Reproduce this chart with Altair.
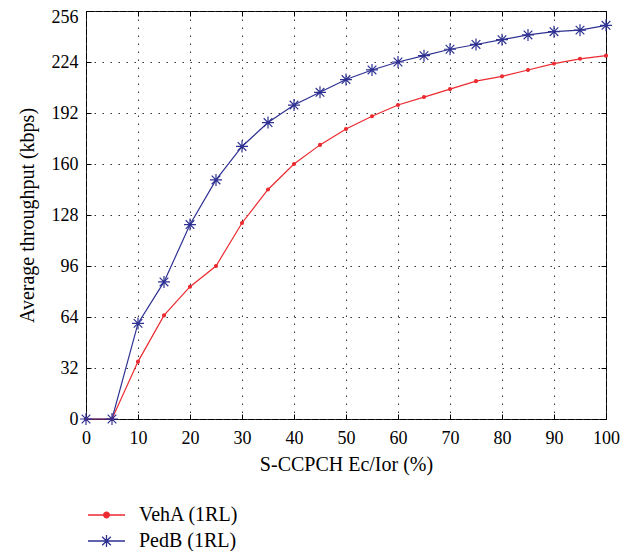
import altair as alt
import pandas as pd

# ---- data ----
x_pct = [0, 5, 10, 15, 20, 25, 30, 35, 40, 45, 50, 55, 60, 65, 70, 75, 80, 85, 90, 95, 100]
veha = [0, 0, 36, 65, 83, 96, 123, 144, 160, 172, 182, 190, 197, 202, 207, 212, 215, 219, 223, 226, 228]
pedb = [0, 0, 60, 86, 122, 150, 171, 186, 197, 205, 213, 219, 224, 228, 232, 235, 238, 241, 243, 244, 247]
series_names = ["VehA (1RL)", "PedB (1RL)"]
series_colors = ["#ec2a30", "#2e3192"]
x_ticks = [0, 10, 20, 30, 40, 50, 60, 70, 80, 90, 100]
y_ticks = [0, 32, 64, 96, 128, 160, 192, 224, 256]

rows = []
for name, vals in zip(series_names, [veha, pedb]):
    for xv, yv in zip(x_pct, vals):
        rows.append({"x": xv, "y": yv, "series": name})
df = pd.DataFrame(rows)

FONT = "Liberation Serif"
FS_TICK = 18
FS_TITLE = 20
FS_LEG = 20

# marker shapes (unit box -1..1)
DOT = "M-0.24,0A0.24,0.24,0,1,0,0.24,0A0.24,0.24,0,1,0,-0.24,0Z"
STAR = "M0,-1V1M-1,0H1M-0.72,-0.72L0.72,0.72M-0.72,0.72L0.72,-0.72"
# legend symbols: line segment + marker
LEG_VEHA = "M-1.85,0H1.85M-0.28,0A0.28,0.28,0,1,0,0.28,0A0.28,0.28,0,1,0,-0.28,0Z"
LEG_PEDB = "M-1.85,0H1.85M0,-0.6V0.6M-0.6,0H0.6M-0.43,-0.43L0.43,0.43M-0.43,0.43L0.43,-0.43"

xscale = alt.Scale(domain=[0, 100], nice=False, zero=False)
yscale = alt.Scale(domain=[0, 256], nice=False)
cscale = alt.Scale(domain=series_names, range=series_colors)
shscale = alt.Scale(domain=series_names, range=[DOT, STAR])
legshscale = alt.Scale(domain=series_names, range=[LEG_VEHA, LEG_PEDB])

grid_props = dict(grid=True, gridDash=[1.5, 6.5], gridColor="#333333", gridWidth=1, gridOpacity=1)

x_axis_main = alt.Axis(
    orient="bottom", values=x_ticks, offset=-5, tickSize=5, tickColor="black", tickWidth=1,
    domain=False, labelFont=FONT, labelFontSize=FS_TICK, labelColor="black", labelPadding=10,
    labelFlush=False, labelOverlap=False,
    title="S-CCPCH Ec/Ior (%)", titleFont=FONT, titleFontSize=FS_TITLE, titleFontWeight="normal",
    titleColor="black", titlePadding=7, **grid_props)
y_axis_main = alt.Axis(
    orient="left", values=y_ticks, offset=-5, tickSize=5, tickColor="black", tickWidth=1,
    domain=False, labelFont=FONT, labelFontSize=FS_TICK, labelColor="black", labelPadding=8,
    labelFlush=False, labelOverlap=False,
    labelOffset={"condition": {"test": "datum.value == 256", "value": 6}, "value": 0},
    title="Average throughput (kbps)", titleFont=FONT, titleFontSize=FS_TITLE, titleFontWeight="normal",
    titleColor="black", titlePadding=14, **grid_props)
x_axis_top = alt.Axis(orient="top", values=x_ticks, offset=-5, tickSize=5, tickColor="black",
                      domain=False, labels=False, grid=False, title=None)
y_axis_right = alt.Axis(orient="right", values=y_ticks, offset=-5, tickSize=5, tickColor="black",
                        domain=False, labels=False, grid=False, title=None)

legend = alt.Legend(
    title=None, orient="none", direction="vertical", legendX=9.5, legendY=493,
    symbolSize=400, symbolStrokeWidth=1.3, labelOffset=21.5, rowPadding=5, padding=0,
    labelFont=FONT, labelFontSize=FS_LEG, labelColor="black")

lines = alt.Chart(df).mark_line(strokeWidth=1.2).encode(
    x=alt.X("x:Q", scale=xscale, axis=x_axis_main),
    y=alt.Y("y:Q", scale=yscale, axis=y_axis_main),
    color=alt.Color("series:N", scale=cscale, legend=None),
    detail="series:N",
)

points = alt.Chart(df).mark_point(filled=True, size=144, strokeWidth=1.2, opacity=1).encode(
    x=alt.X("x:Q", scale=xscale, axis=x_axis_top),
    y=alt.Y("y:Q", scale=yscale, axis=y_axis_right),
    color=alt.Color("series:N", scale=cscale, legend=None),
    stroke=alt.Stroke("series:N", scale=cscale, legend=None),
    shape=alt.Shape("series:N", scale=shscale, legend=None),
)

# legend-only layer: zero-size points, legend symbols show line + marker
legend_layer = alt.Chart(df).mark_point(filled=True, size=0, strokeWidth=1.3, opacity=1).encode(
    x=alt.X("x:Q", scale=xscale, axis=None),
    y=alt.Y("y:Q", scale=yscale, axis=None),
    color=alt.Color("series:N", scale=cscale, legend=legend),
    stroke=alt.Stroke("series:N", scale=cscale, legend=legend),
    shape=alt.Shape("series:N", scale=legshscale, legend=legend),
)

chart = alt.layer(lines, points, legend_layer).resolve_axis(
    x="independent", y="independent"
).resolve_scale(
    color="independent", stroke="independent", shape="independent"
).properties(
    width=520, height=408,
    autosize=alt.AutoSizeParams(type="none"),
    padding={"left": 78, "top": 3, "right": 18, "bottom": 132},
    background="white",
).configure_view(stroke="black", strokeWidth=1)

chart.save("out.html", embed_options={"renderer": "svg", "actions": False})
